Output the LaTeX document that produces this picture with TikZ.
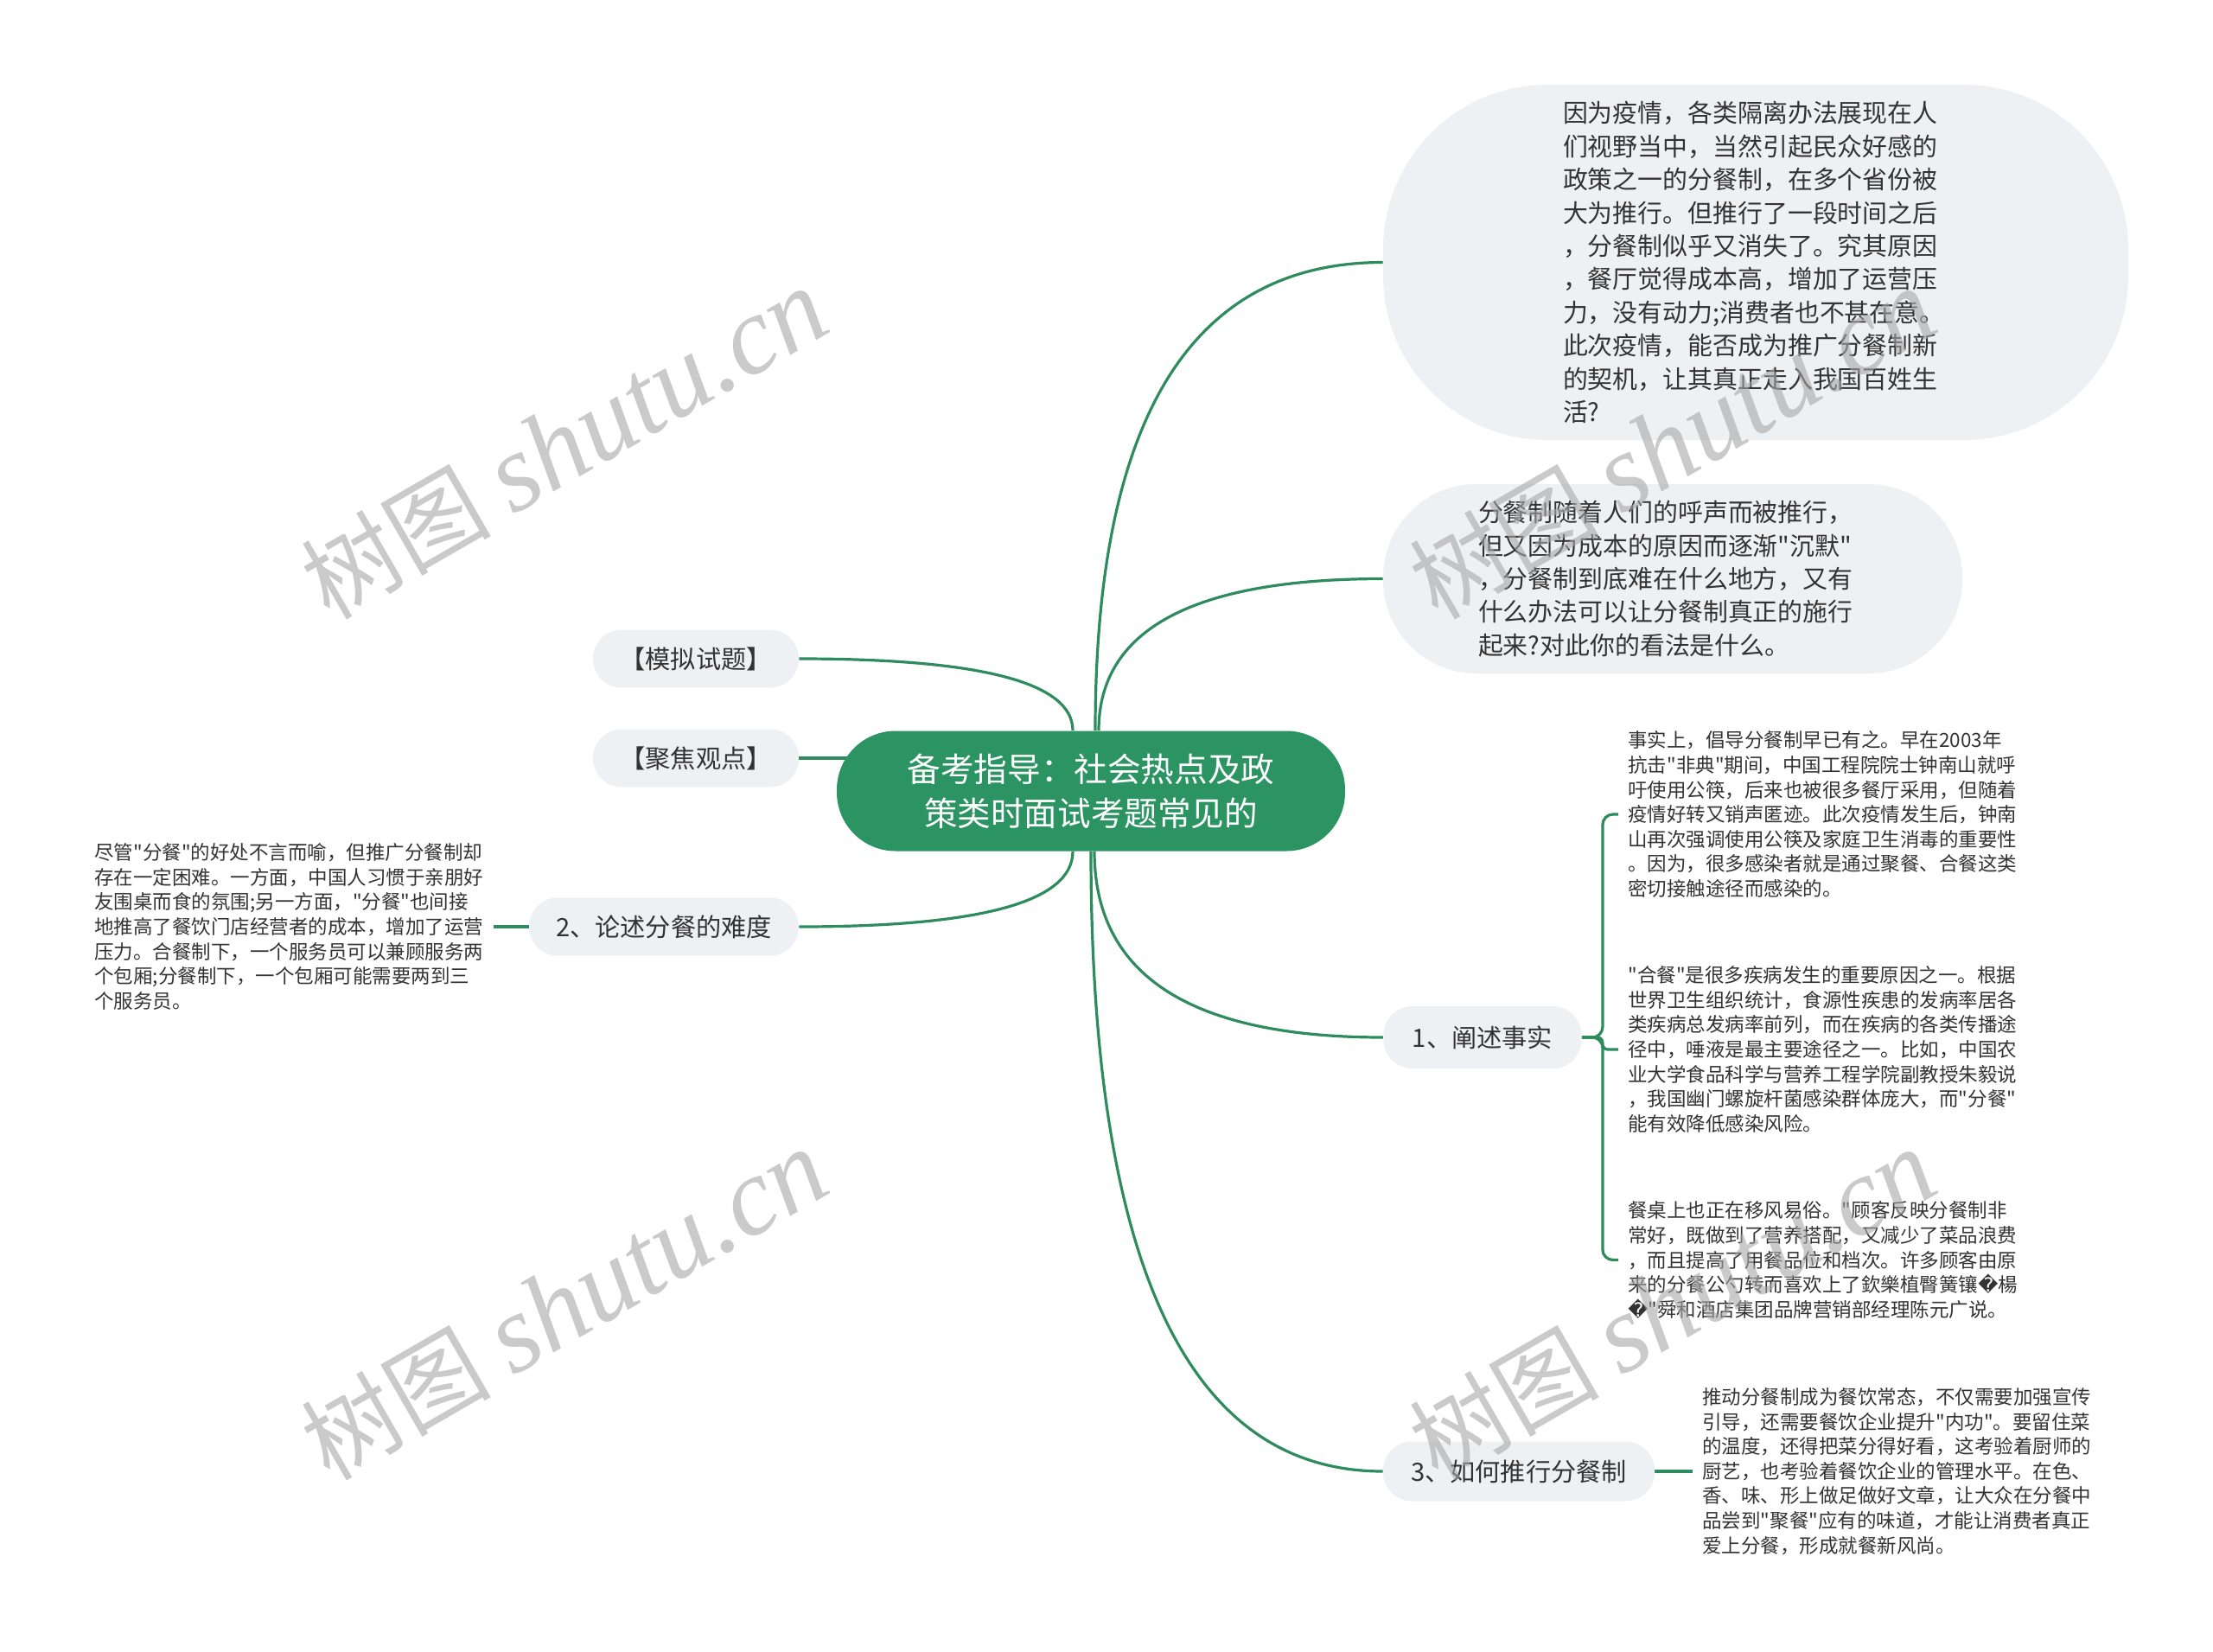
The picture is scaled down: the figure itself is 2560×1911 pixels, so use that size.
\documentclass[tikz,border=0pt]{standalone}
\usepackage{fontspec}
\setmainfont{Noto Sans CJK SC}[Ligatures=TeXOff]
\newfontfamily\stamplatin{Liberation Serif}
\newfontfamily\glyphfont{DejaVu Sans}
\usetikzlibrary{backgrounds,calc}

\definecolor{RootGreen}{RGB}{43,148,98}
\definecolor{LineGreen}{RGB}{46,139,94}
\definecolor{BubbleGray}{RGB}{238,241,244}
\definecolor{InkGray}{RGB}{51,51,51}

\tikzset{
  RootBox/.style={fill=RootGreen, text=white, rounded corners=34pt, inner sep=0pt,
    minimum width=294pt, minimum height=69.5pt, align=center,
    font=\fontsize{19.3}{25.3}\selectfont},
  TopicBox/.style={fill=BubbleGray, text=InkGray, rounded corners=16.5pt, inner sep=0pt,
    minimum height=33.5pt, font=\fontsize{14.6}{19}\selectfont},
  QuoteBox/.style={fill=BubbleGray, text=InkGray, inner sep=0pt, align=left,
    font=\fontsize{14.45}{19.2}\selectfont},
  NoteText/.style={text=InkGray, align=left, inner xsep=5.5pt, inner ysep=0pt,
    font=\fontsize{11.25}{14.3}\selectfont},
  Branch/.style={draw=LineGreen, line width=1.6pt},
  Bend/.style={to path={..controls($(\tikztostart)!0.667!(\tikztostart|-\tikztotarget)$)
    and($(\tikztotarget)!0.667!(\tikztostart|-\tikztotarget)$)..(\tikztotarget)}},
  Stamp/.style={text=black!35, text opacity=0.6, rotate=30, inner sep=0pt}
}

\begin{document}
\begin{tikzpicture}[x=0.5pt, y=-0.5pt]
       \useasboundingbox (0,0) rectangle (2560,1911);
       % centre and first ring
       \node[RootBox](Root)at(1262,915){备考指导：社会热点及政\\策类时面试考题常见的};
       \node[QuoteBox, rounded corners=95pt, text width=223pt, minimum width=431pt, minimum height=205.5pt](Background)at(2031,303.5){因为疫情，各类隔离办法展现在人\\
们视野当中，当然引起民众好感的\\
政策之一的分餐制，在多个省份被\\
大为推行。但推行了一段时间之后\\
，分餐制似乎又消失了。究其原因\\
，餐厅觉得成本高，增加了运营压\\
力，没有动力;消费者也不甚在意。\\
此次疫情，能否成为推广分餐制新\\
的契机，让其真正走入我国百姓生\\
活?};
       \node[QuoteBox, rounded corners=54pt, text width=225pt, minimum width=335pt, minimum height=109.5pt](Question)at(1935,669.5){分餐制随着人们的呼声而被推行，\\
但又因为成本的原因而逐渐"沉默"\\
，分餐制到底难在什么地方，又有\\
什么办法可以让分餐制真正的施行\\
起来?对此你的看法是什么。};
       \node[TopicBox, minimum width=119pt](MockExam)at(805,762){【模拟试题】};
       \node[TopicBox, minimum width=119pt](FocusView)at(805,877){【聚焦观点】};
       \node[TopicBox, minimum width=156pt](Difficulty)at(768,1072){2、论述分餐的难度};
       \node[TopicBox, minimum width=114.5pt, minimum height=36pt](Facts)at(1715,1200){1、阐述事实};
       \node[TopicBox, minimum width=157pt, minimum height=34.5pt](Promote)at(1757,1702){3、如何推行分餐制};
       % leaf notes
       \node[NoteText, anchor=west](DifficultyNote)at(98,1072){尽管"分餐"的好处不言而喻，但推广分餐制却\\
存在一定困难。一方面，中国人习惯于亲朋好\\
友围桌而食的氛围;另一方面，"分餐"也间接\\
地推高了餐饮门店经营者的成本，增加了运营\\
压力。合餐制下，一个服务员可以兼顾服务两\\
个包厢;分餐制下，一个包厢可能需要两到三\\
个服务员。};
       \node[NoteText, anchor=west](FactA)at(1872,942){事实上，倡导分餐制早已有之。早在2003年\\
抗击"非典"期间，中国工程院院士钟南山就呼\\
吁使用公筷，后来也被很多餐厅采用，但随着\\
疫情好转又销声匿迹。此次疫情发生后，钟南\\
山再次强调使用公筷及家庭卫生消毒的重要性\\
。因为，很多感染者就是通过聚餐、合餐这类\\
密切接触途径而感染的。};
       \node[NoteText, anchor=west](FactB)at(1872,1214){"合餐"是很多疾病发生的重要原因之一。根据\\
世界卫生组织统计，食源性疾患的发病率居各\\
类疾病总发病率前列，而在疾病的各类传播途\\
径中，唾液是最主要途径之一。比如，中国农\\
业大学食品科学与营养工程学院副教授朱毅说\\
，我国幽门螺旋杆菌感染群体庞大，而"分餐"\\
能有效降低感染风险。};
       \node[NoteText, anchor=west](FactC)at(1872,1457.5){餐桌上也正在移风易俗。"顾客反映分餐制非\\
常好，既做到了营养搭配，又减少了菜品浪费\\
，而且提高了用餐品位和档次。许多顾客由原\\
来的分餐公勺转而喜欢上了欽樂植臀簧镶{\glyphfont �}楊\\
{\glyphfont �}"舜和酒店集团品牌营销部经理陈元广说。};
       \node[NoteText, anchor=west](PromoteNote)at(1958,1702){推动分餐制成为餐饮常态，不仅需要加强宣传\\
引导，还需要餐饮企业提升"内功"。要留住菜\\
的温度，还得把菜分得好看，这考验着厨师的\\
厨艺，也考验着餐饮企业的管理水平。在色、\\
香、味、形上做足做好文章，让大众在分餐中\\
品尝到"聚餐"应有的味道，才能让消费者真正\\
爱上分餐，形成就餐新风尚。};
       % branch roots on the centre box
       \coordinate(RootTopLeft)at([xshift=-10.5pt]Root.north);
       \coordinate(RootTopMid)at([xshift=2.5pt]Root.north);
       \coordinate(RootTopRight)at([xshift=4.5pt]Root.north);
       \coordinate(RootBottomLeft)at([xshift=-10.5pt]Root.south);
       \coordinate(RootBottomMid)at(Root.south);
       \coordinate(RootBottomRight)at([xshift=2pt]Root.south);
       \begin{scope}[on background layer]
       \draw[Branch](RootTopLeft)to[Bend](MockExam.east);
       \draw[Branch](FocusView.east)--(FocusView.east-|Root.center);
       \draw[Branch](RootTopMid)to[Bend](Background.west);
       \draw[Branch](RootTopRight)to[Bend](Question.west);
       \draw[Branch](RootBottomLeft)to[Bend](Difficulty.east);
       \draw[Branch](RootBottomRight)to[Bend](Facts.west);
       \draw[Branch](RootBottomMid)to[Bend](Promote.west);
       \draw[Branch](DifficultyNote.east)--(Difficulty.west);
       \draw[Branch, rounded corners=6pt](Facts.east)--++(12pt,0)|-(FactA.west);
       \draw[Branch, rounded corners=3pt](Facts.east)--++(12pt,0)|-(FactB.west);
       \draw[Branch, rounded corners=6pt](Facts.east)--++(12pt,0)|-(FactC.west);
       \draw[Branch](Promote.east)--(PromoteNote.west);
       \end{scope}
       % watermark
       \foreach \sx/\sy [count=\i] in {653/514, 653/1510, 1935/514, 1935/1510}
         \node[Stamp](Stamp\i)at(\sx,\sy){\fontsize{55}{55}\selectfont 树图 {\stamplatin\itshape\fontsize{64}{64}\selectfont shutu.cn}};
      \end{tikzpicture}
\end{document}
